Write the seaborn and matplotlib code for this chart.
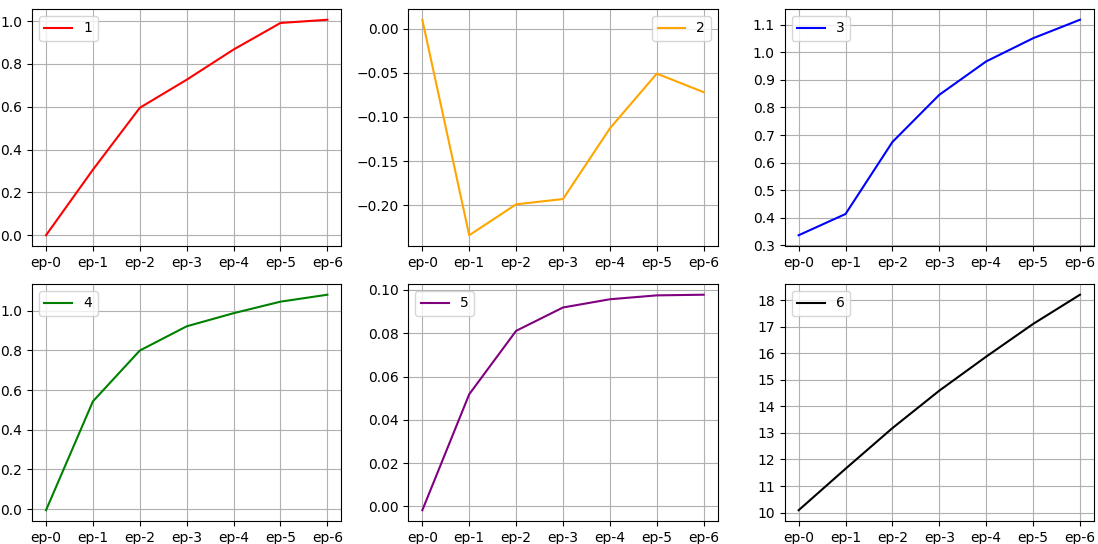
import matplotlib
matplotlib.use("Agg")
import matplotlib.pyplot as plt
from matplotlib.ticker import MultipleLocator
import seaborn as sns
import pandas as pd

epochs = ["ep-0", "ep-1", "ep-2", "ep-3", "ep-4", "ep-5", "ep-6"]

s1 = [0.0, 0.306, 0.595, 0.726, 0.867, 0.991, 1.006]
s2 = [0.010, -0.234, -0.199, -0.193, -0.113, -0.051, -0.072]
s3 = [0.337, 0.414, 0.675, 0.846, 0.967, 1.051, 1.118]
s4 = [-0.005, 0.543, 0.799, 0.921, 0.987, 1.045, 1.080]
s5 = [-0.0018, 0.0518, 0.0811, 0.0919, 0.0957, 0.0975, 0.0978]
s6 = [10.09, 11.65, 13.18, 14.59, 15.87, 17.10, 18.20]

labels = ["1", "2", "3", "4", "5", "6"]
colors = ["red", "orange", "blue", "green", "purple", "black"]
legend_locs = ["upper left", "upper right", "upper left", "upper left", "upper left", "upper left"]
tick_steps = [None, None, 0.1, None, None, 1]
series = [s1, s2, s3, s4, s5, s6]

fig, axes = plt.subplots(2, 3, figsize=(10.98, 5.44), dpi=100)
fig.subplots_adjust(left=0.0291, right=0.9964, top=0.9835, bottom=0.0423,
                    wspace=0.216, hspace=0.160)

for ax, ys, lab, col, loc, step in zip(axes.flat, series, labels, colors, legend_locs, tick_steps):
    df = pd.DataFrame({"epoch": epochs, "value": ys})
    sns.lineplot(data=df, x="epoch", y="value", color=col, label=lab, ax=ax, sort=False)
    ax.grid(True)
    ax.set_xlabel("")
    ax.set_ylabel("")
    if step is not None:
        ax.yaxis.set_major_locator(MultipleLocator(step))
    ax.legend(loc=loc)

fig.savefig("out.png", dpi=100)
